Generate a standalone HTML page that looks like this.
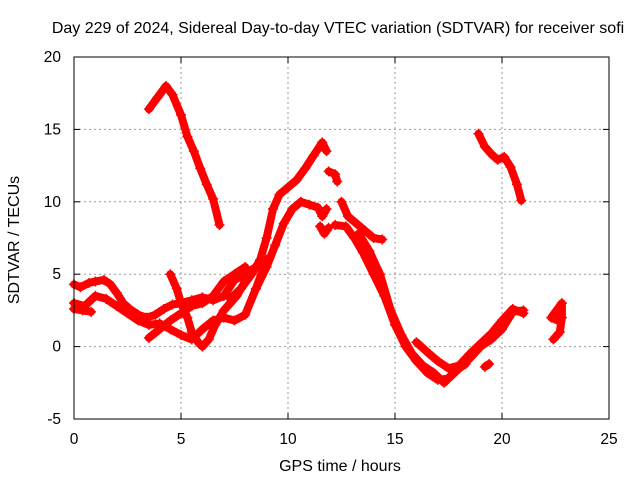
<!DOCTYPE html>
<html><head><meta charset="utf-8"><style>
body{margin:0;background:#fff}
svg{display:block;font-family:"Liberation Sans",sans-serif}
</style></head><body>
<svg width="640" height="480">
<rect width="640" height="480" fill="#fff"/>
<g id="grid"></g>
<g id="marks"></g>
<rect x="74" y="57" width="535" height="362" fill="none" stroke="#000" stroke-width="1"/>
<g id="ticks"></g>
<text x="338" y="33" font-size="16" text-anchor="middle">Day 229 of 2024, Sidereal Day-to-day VTEC variation (SDTVAR) for receiver sofi</text>
<text x="340" y="471" font-size="16" text-anchor="middle">GPS time / hours</text>
<text x="19" y="240" font-size="16" text-anchor="middle" transform="rotate(-90 19 240)">SDTVAR / TECUs</text>
</svg>
<script>
const xTicks=[0,5,10,15,20,25];
const yTicks=[-5,0,5,10,15,20];
const trackA=[[3.5,16.4],[3.9,17.2],[4.3,18.0],[4.6,17.4],[5.0,16.0],[5.3,14.5],[5.6,13.5],[5.9,12.3],[6.2,11.2],[6.5,10.2],[6.8,8.4]];
const trackB=[[18.9,14.7],[19.2,13.8],[19.5,13.3],[19.8,12.9],[20.1,13.1],[20.4,12.4],[20.7,11.2],[20.9,10.1]];
const riseUpper=[[7.3,3.3],[7.8,4],[8.3,5],[8.7,6],[9.0,7.5],[9.3,9.5],[9.6,10.5],[10,11],[10.4,11.5],[10.8,12.3],[11.2,13.2],[11.6,14.1],[11.8,13.5]];
const blob1=[[11.9,12.1],[12.2,11.9],[12.3,11.4]];
const riseLower=[[8.5,4],[9,5.5],[9.4,7],[9.8,8.5],[10.2,9.5],[10.6,10],[11,9.8],[11.4,9.6],[11.6,9],[11.8,9.5]];
const blob2=[[11.5,8.3],[11.7,7.8],[11.9,8.2]];
const desc1=[[12.5,10],[12.8,9],[13.2,8.5],[13.6,8],[14,7.5],[14.4,7.4]];
const descMain=[[12.2,8.4],[12.7,8.3],[13.1,7.5],[13.5,6.5],[14,5],[14.5,3.5],[15,1.5],[15.5,0],[16,-1],[16.5,-1.8],[17,-2.3],[17.5,-2.2],[18,-1.5],[18.5,-0.8],[19,0],[19.5,0.5],[20,1.2],[20.5,2.4],[21,2.5]];
const desc2=[[13.3,7.8],[13.8,6.6],[14.3,5],[14.8,2.5],[15.3,0.8],[15.8,-0.5],[16.3,-1.3],[16.8,-1.8],[17.3,-2.5],[17.8,-1.7],[18.3,-1.2]];
const desc3=[[16,0.3],[16.6,-0.5],[17,-1],[17.5,-1.5],[18,-1.3],[18.5,-0.5],[19,0.2],[19.5,0.9],[20,1.8],[20.5,2.6],[21,2.3]];
const late=[[19.2,-1.4],[19.4,-1.2]];
const endBlob=[[22.4,0.5],[22.7,1],[22.8,2],[22.8,3.0],[22.3,2.0],[22.6,1.8]];
const left1=[[0,4.3],[0.3,4.1],[0.7,4.4],[1.0,4.5],[1.4,4.6],[1.7,4.3],[2,3.7],[2.3,3],[2.6,2.6],[3,2.2],[3.4,2],[3.8,2.2],[4.2,2.6],[4.6,2.9],[5,3],[5.5,3.2],[6,3.4],[6.5,3.2],[7,3.5],[7.5,4.6],[8,5],[8.5,5.5],[9,6]];
const left2=[[0,3],[0.5,2.8],[1,3.5],[1.5,3.3],[2,2.8],[2.5,2.3],[3,1.8],[3.5,1.5],[4,1.6],[4.5,1.2],[5,0.8],[5.5,0.5],[6,1.2],[6.5,1.8],[7,2],[7.5,1.8],[8,2.2],[8.5,4],[9,6]];
const left3=[[3.5,0.6],[4,1.2],[4.5,1.8],[5,2.3],[5.5,2.8],[6,3],[6.5,3.5],[7,4.5],[7.5,5],[8,5.5]];
const left4=[[4.5,5],[4.8,4],[5,3],[5.3,2],[5.5,1],[5.8,0.3],[6,0],[6.3,0.5],[6.6,1.5],[7,2.5],[7.3,3],[7.6,3.5],[8,4.5]];
const left5=[[0,2.6],[0.4,2.5],[0.8,2.4]];
const tracks=[trackA,trackB,riseUpper,blob1,riseLower,blob2,desc1,descMain,desc2,desc3,late,endBlob,left1,left2,left3,left4,left5];
const X0=74,X1=609,Y0=419,Y1=57;
const xs=v=>X0+(v-0)/25*(X1-X0);
const ys=v=>Y0-(v+5)/25*(Y0-Y1);
const NS="http://www.w3.org/2000/svg";
const grid=document.getElementById('grid'),ticks=document.getElementById('ticks'),marks=document.getElementById('marks');
function mk(tag,attrs,parent){const e=document.createElementNS(NS,tag);for(const k in attrs)e.setAttribute(k,attrs[k]);parent.appendChild(e);return e;}
xTicks.forEach(t=>{
  const x=xs(t);
  if(t>0&&t<25){const g=mk('line',{x1:x,x2:x,y1:Y1,y2:Y0,stroke:'#999','stroke-dasharray':'2,3'},grid);
  
  }
  mk('line',{x1:x,x2:x,y1:Y0,y2:Y0-6,stroke:'#000'},ticks);
  mk('line',{x1:x,x2:x,y1:Y1,y2:Y1+6,stroke:'#000'},ticks);
  const l=mk('text',{x:x,y:Y0+25,'font-size':15.5,'text-anchor':'middle'},ticks);l.textContent=t;
  
  
});
yTicks.forEach(t=>{
  const y=ys(t);
  if(t>-5&&t<20){const g=mk('line',{x1:X0,x2:X1,y1:y,y2:y,stroke:'#999','stroke-dasharray':'2,3'},grid);
  
  }
  mk('line',{x1:X0,x2:X0+6,y1:y,y2:y,stroke:'#000'},ticks);
  mk('line',{x1:X1,x2:X1-6,y1:y,y2:y,stroke:'#000'},ticks);
  const l=mk('text',{x:X0-13,y:y+5,'font-size':15.5,'text-anchor':'end'},ticks);l.textContent=t;
  
  
});
tracks.forEach(tr=>{
  const pl=mk('polyline',{points:tr.map(p=>xs(p[0])+','+ys(p[1])).join(' '),fill:'none',stroke:'#f00','stroke-width':8,'stroke-linejoin':'round','stroke-linecap':'round'},marks);
  
  
  tr.forEach(p=>{
    const x=xs(p[0]),y=ys(p[1]);
    const m=mk('path',{d:`M${x-5},${y}H${x+5}M${x},${y-5}V${y+5}`,stroke:'#f00','stroke-width':1.5},marks);
    
    
  });
});
</script>
</body></html>
